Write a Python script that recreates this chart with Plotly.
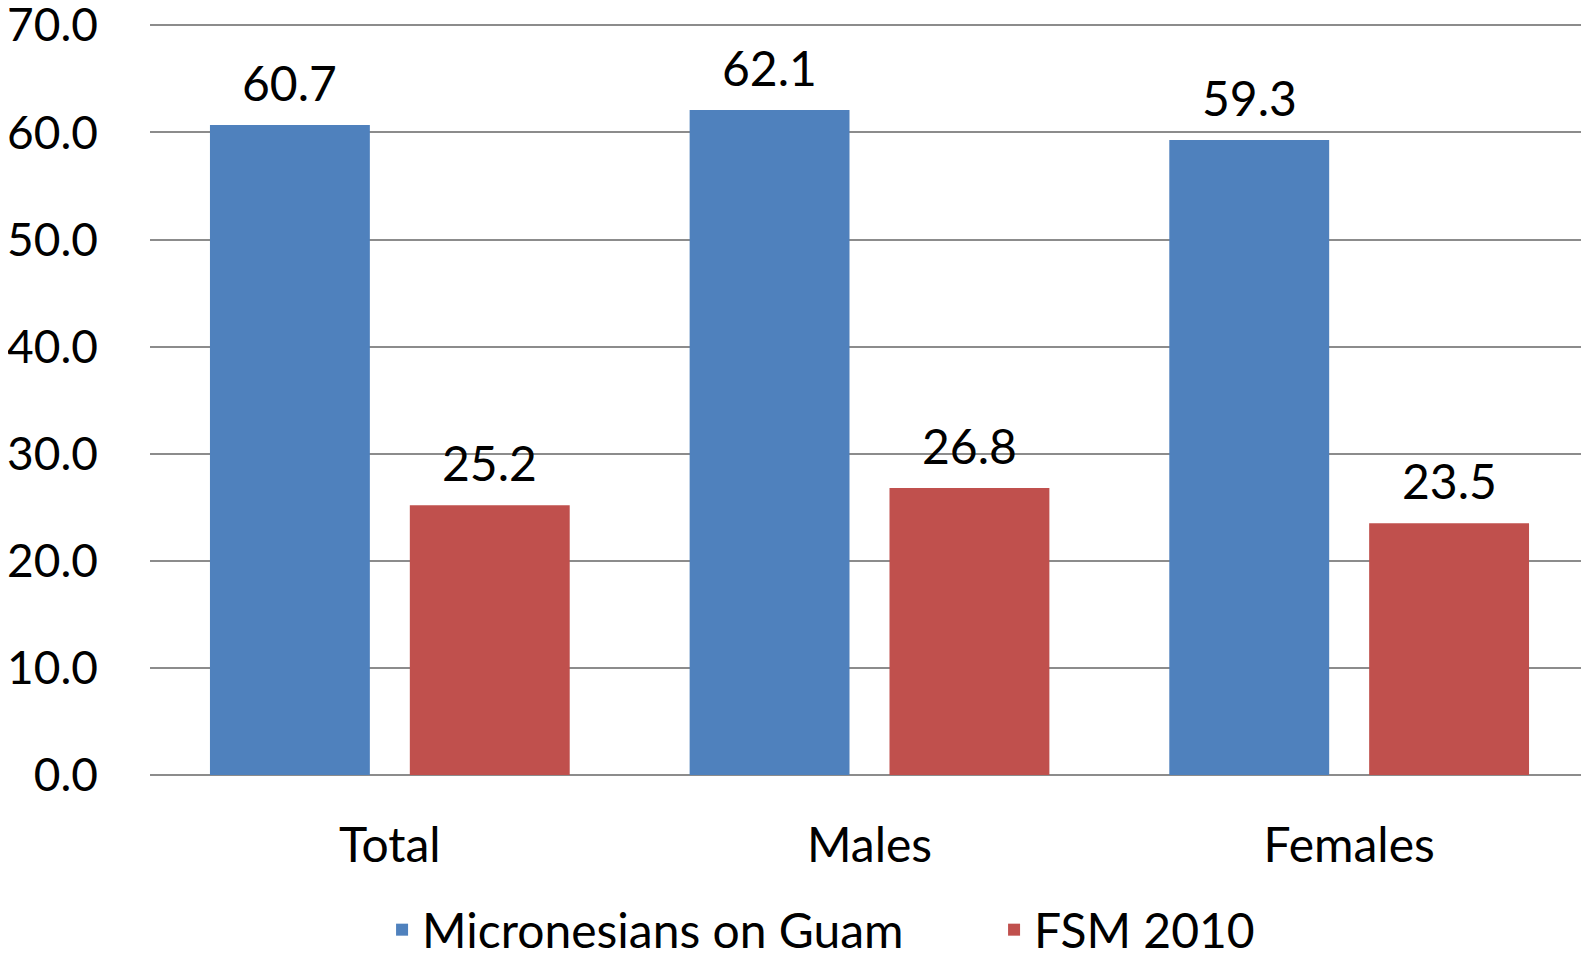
import plotly.graph_objects as go

categories = ["Total", "Males", "Females"]
guam_values = [60.7, 62.1, 59.3]
fsm_values = [25.2, 26.8, 23.5]
series_names = ["Micronesians on Guam", "FSM 2010"]
y_ticks = [0, 10, 20, 30, 40, 50, 60, 70]
y_tick_labels = ["0.0", "10.0", "20.0", "30.0", "40.0", "50.0", "60.0", "70.0"]

BLUE = "#4F81BD"
RED = "#C0504D"
FONT = "Lato"
FS = 48

fig = go.Figure()
fig.add_trace(go.Bar(x=categories, y=guam_values, name=series_names[0],
                     marker=dict(color=BLUE, line=dict(width=0))))
fig.add_trace(go.Bar(x=categories, y=fsm_values, name=series_names[1],
                     marker=dict(color=RED, line=dict(width=0))))

# value labels above bars
bargap = 1 / 6
groupgap = 0.2
offset = (1 - bargap) / 4
for i, cat in enumerate(categories):
    for val, dx in ((guam_values[i], -offset), (fsm_values[i], offset)):
        fig.add_annotation(x=i + dx, y=val, xref="x", yref="y",
                           text=f"{val:.1f}", showarrow=False,
                           yanchor="bottom", yshift=12,
                           font=dict(family=FONT, size=FS, color="#000000"))

fig.update_layout(
    width=1581, height=946,
    margin=dict(l=142, r=0, t=12, b=179, autoexpand=False),
    paper_bgcolor="white", plot_bgcolor="white",
    barmode="group", bargap=bargap, bargroupgap=groupgap,
    font=dict(family=FONT, size=FS, color="#000000"),
    showlegend=True,
    legend=dict(orientation="h", xref="container", yref="container",
                x=0.2366, xanchor="left", y=0.0254, yanchor="middle",
                font=dict(family=FONT, size=FS, color="#000000"),
                entrywidth=567, bgcolor="rgba(0,0,0,0)"),
    xaxis=dict(type="category", showgrid=False, showline=False, zeroline=False,
               ticks="outside", ticklen=28, tickcolor="rgba(0,0,0,0)",
               tickfont=dict(family=FONT, size=FS, color="#000000")),
    yaxis=dict(range=[0, 70.5], tickvals=y_ticks, ticktext=y_tick_labels,
               showgrid=True, gridcolor="#8c8c8c", gridwidth=1.5,
               zeroline=True, zerolinecolor="#8c8c8c", zerolinewidth=1.5,
               showline=False, ticks="", ticklabelstandoff=51,
               ticklabeloverflow="allow",
               tickfont=dict(family=FONT, size=46, color="#000000")),
)

fig.write_html("out.html")
